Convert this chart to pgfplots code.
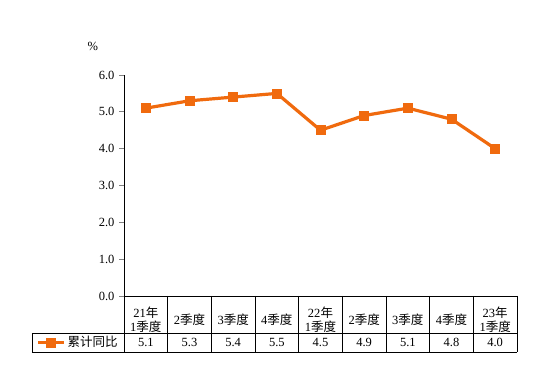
\documentclass[border=0pt]{standalone}
\usepackage{pgfplots}
\pgfplotsset{compat=1.18}
\usepackage{fontspec}
\setmainfont{Liberation Serif}
\newfontfamily\cjk{Noto Sans CJK SC}
\definecolor{lineor}{RGB}{240,106,14}
\newcommand{\tfont}{\fontsize{12.5}{14}\selectfont}
\begin{document}
\begin{tikzpicture}[x=1pt,y=1pt]
\useasboundingbox[fill=white] (0,0) rectangle (554,382);
\begin{axis}[
  at={(124pt,86pt)}, anchor=south west,
  scale only axis, width=393pt, height=221pt,
  xmin=-0.5, xmax=8.5, ymin=0, ymax=6,
  axis lines=left, axis line style={-, line width=0.9pt},
  x axis line style={draw=none},
  ytick={0,1,...,6},
  yticklabel style={/pgf/number format/fixed, /pgf/number format/fixed zerofill, /pgf/number format/precision=1, font=\tfont, xshift=-1pt},
  /pgf/number format/assume math mode=true,
  tick align=outside, major tick length=5pt,
  ytick style={line width=0.9pt},
  xtick=data, xtick style={draw=none},
  xticklabels={{21{\cjk 年}\\1{\cjk 季度}},{2{\cjk 季度}},{3{\cjk 季度}},{4{\cjk 季度}},{22{\cjk 年}\\1{\cjk 季度}},{2{\cjk 季度}},{3{\cjk 季度}},{4{\cjk 季度}},{23{\cjk 年}\\1{\cjk 季度}}},
  xticklabel style={anchor=center, yshift=-18.5pt, align=center, font=\fontsize{12.5}{14.5}\selectfont, inner sep=0pt},
  clip=false,
  legend style={draw=none, fill=none, at={(axis description cs:-0.117,-0.2104)}, anchor=center, font=\tfont, inner sep=0pt, legend cell align=left},
  legend image code/.code={\draw[mark repeat=2,mark phase=2] plot coordinates {(0pt,0pt)(13pt,0pt)(26pt,0pt)};},
]
\addplot[color=lineor, line width=3.2pt, mark=square*, mark size=4.5pt, mark options={line width=0.5pt, fill=lineor}]
  coordinates {(0,5.1) (1,5.3) (2,5.4) (3,5.5) (4,4.5) (5,4.9) (6,5.1) (7,4.8) (8,4.0)};
\addlegendentry{{\cjk 累计同比}}
% table grid
\draw[line width=0.9pt] (axis cs:-0.5,0) -- (axis cs:8.5,0);
\draw[line width=0.9pt] (axis cs:-2.607,-1.0046) -- (axis cs:8.5,-1.0046);
\draw[line width=0.9pt] (axis cs:-2.607,-1.5205) -- (axis cs:8.5,-1.5205);
\draw[line width=0.9pt] (axis cs:-2.607,-1.0046) -- (axis cs:-2.607,-1.5205);
\pgfplotsinvokeforeach{-0.5,0.5,1.5,2.5,3.5,4.5,5.5,6.5,7.5,8.5}{
  \draw[line width=0.9pt] (axis cs:#1,0) -- (axis cs:#1,-1.5205);
}
% values row
\node[font=\tfont] at (axis cs:0,-1.263) {5.1};
\node[font=\tfont] at (axis cs:1,-1.263) {5.3};
\node[font=\tfont] at (axis cs:2,-1.263) {5.4};
\node[font=\tfont] at (axis cs:3,-1.263) {5.5};
\node[font=\tfont] at (axis cs:4,-1.263) {4.5};
\node[font=\tfont] at (axis cs:5,-1.263) {4.9};
\node[font=\tfont] at (axis cs:6,-1.263) {5.1};
\node[font=\tfont] at (axis cs:7,-1.263) {4.8};
\node[font=\tfont] at (axis cs:8,-1.263) {4.0};
\node[font=\tfont] at (axis description cs:-0.079,1.131) {\%};
\end{axis}
\end{tikzpicture}
\end{document}
